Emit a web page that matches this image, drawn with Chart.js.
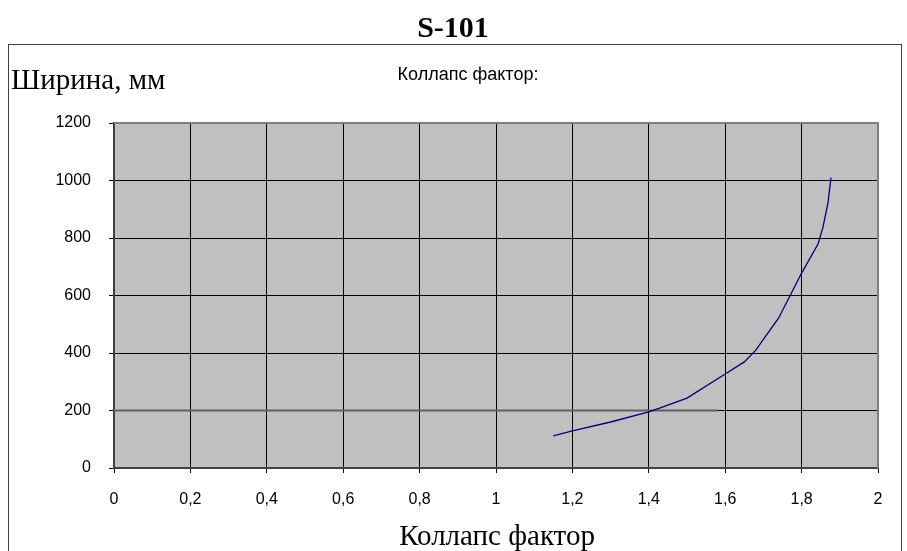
<!DOCTYPE html>
<html><head><meta charset="utf-8">
<script src="https://cdn.jsdelivr.net/npm/chart.js@4/dist/chart.umd.min.js"></script>
<style>html,body{margin:0;padding:0;background:#fff}#wrap{width:907px;height:551px;position:relative}</style>
</head><body><div id="wrap"><canvas id="c" width="907" height="551"></canvas></div>
<script>
const chartTitle = "S-101";
const yAxisTitle = "Ширина, мм";
const xAxisTitle = "Коллапс фактор";
const legendLabel = "Коллапс фактор:";
const collapseFactor = [1.15, 1.2, 1.3, 1.4, 1.43, 1.5, 1.6, 1.65, 1.68, 1.74, 1.8, 1.843, 1.856, 1.869, 1.877];
const widthMm = [112, 129, 160, 195, 209, 243, 327, 369, 410, 522, 678, 779, 838, 922, 1010];
const refLineX = [0, 1.58];
const refLineY = [200, 200];
const xTicks = [0, 0.2, 0.4, 0.6, 0.8, 1, 1.2, 1.4, 1.6, 1.8, 2];
const yTicks = [0, 200, 400, 600, 800, 1000, 1200];

const curve = collapseFactor.map((x, i) => ({x, y: widthMm[i]}));
const ref = refLineX.map((x, i) => ({x, y: refLineY[i]}));

const deco = {
  id: 'deco',
  beforeDraw(chart) {
    const {ctx, chartArea: a} = chart;
    ctx.save();
    ctx.fillStyle = '#fff';
    ctx.fillRect(0, 0, chart.width, chart.height);
    ctx.strokeStyle = '#404040';
    ctx.lineWidth = 1;
    ctx.strokeRect(8.5, 44.5, 893, 520);
    ctx.fillStyle = '#C0C0C0';
    ctx.fillRect(a.left, a.top, a.right - a.left, a.bottom - a.top);
    ctx.restore();
  },
  afterDraw(chart) {
    const {ctx, chartArea: a} = chart;
    ctx.save();
    ctx.strokeStyle = '#808080';
    ctx.lineWidth = 2;
    ctx.beginPath();
    ctx.moveTo(a.left, a.top); ctx.lineTo(a.right, a.top); ctx.lineTo(a.right, a.bottom);
    ctx.stroke();
    ctx.fillStyle = '#000';
    ctx.textBaseline = 'middle';
    ctx.textAlign = 'center';
    ctx.font = 'bold 30px "Liberation Serif", "Times New Roman", serif';
    ctx.fillText(chartTitle, 453, 29);
    ctx.font = '18px "Liberation Sans", Arial, sans-serif';
    ctx.fillText(legendLabel, 468, 75);
    ctx.textAlign = 'left';
    ctx.font = '29px "Liberation Serif", "Times New Roman", serif';
    ctx.fillText(yAxisTitle, 11, 81);
    ctx.textAlign = 'center';
    ctx.fillText(xAxisTitle, 497, 537);
    ctx.restore();
  }
};

new Chart(document.getElementById('c'), {
  type: 'scatter',
  data: {
    datasets: [
      {data: ref, showLine: true, borderColor: '#606060', borderWidth: 2, pointRadius: 0, order: 2},
      {data: curve, showLine: true, borderColor: '#000080', borderWidth: 1.3, pointRadius: 0, order: 1}
    ]
  },
  options: {
    responsive: false,
    animation: false,
    devicePixelRatio: 1,
    layout: {padding: {left: 0, top: 123, right: 29, bottom: 0}},
    plugins: {legend: {display: false}, tooltip: {enabled: false}, title: {display: false}},
    scales: {
      x: {
        type: 'linear', min: 0, max: 2,
        afterFit: s => { s.height = 83; },
        afterBuildTicks: s => { s.ticks = xTicks.map(v => ({value: v})); },
        grid: {color: '#000', lineWidth: 1, tickLength: 5, drawOnChartArea: true},
        border: {color: '#404040', width: 2},
        ticks: {color: '#000', padding: 17, maxRotation: 0, font: {family: '"Liberation Sans", Arial, sans-serif', size: 16},
          callback: v => String(v).replace('.', ',')}
      },
      y: {
        type: 'linear', min: 0, max: 1200,
        afterFit: s => { s.width = 114; },
        afterBuildTicks: s => { s.ticks = yTicks.map(v => ({value: v})); },
        grid: {color: '#000', lineWidth: 1, tickLength: 5},
        border: {color: '#404040', width: 2},
        ticks: {color: '#000', padding: 18, font: {family: '"Liberation Sans", Arial, sans-serif', size: 16},
          callback: v => String(v)}
      }
    }
  },
  plugins: [deco]
});
</script></body></html>
